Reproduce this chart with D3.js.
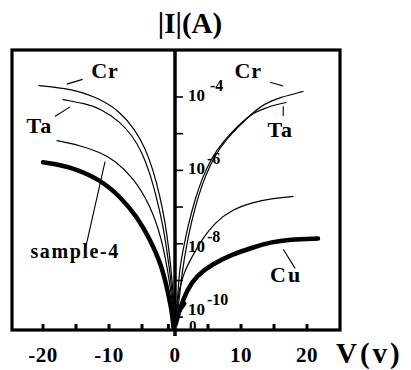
<!DOCTYPE html>
<html>
<head>
<meta charset="utf-8">
<script src="https://cdn.jsdelivr.net/npm/d3@7"></script>
<style>
  body { margin: 0; background: #fff; }
  text { font-family: "Liberation Serif", "Times New Roman", serif; font-weight: bold; fill: #000; }
</style>
</head>
<body>
<div id="container"></div>
<script>
/* sizes */
const width = 411, height = 370;

/* data: [V (volts), log10 |I| (A)] */
const crLeft = [[-20.61,-3.69],[-15.91,-3.77],[-11.36,-4.04],[-8.33,-4.4],[-6.06,-4.89],[-4.55,-5.38],[-3.33,-5.98],[-2.27,-6.71],[-1.52,-7.39],[-0.91,-8.16],[-0.45,-8.97],[-0.15,-9.71],[0,-10.09]];
const taLeft = [[-16.97,-4.07],[-13.64,-4.18],[-11.36,-4.31],[-8.33,-4.67],[-6.36,-5.08],[-5.0,-5.51],[-3.79,-6.08],[-2.73,-6.79],[-1.82,-7.5],[-1.21,-8.21],[-0.61,-9.0],[-0.23,-9.74],[0,-10.12]];
const s4Left = [[-17.88,-5.19],[-14.39,-5.32],[-11.36,-5.51],[-9.09,-5.73],[-6.36,-6.19],[-3.79,-6.93],[-1.97,-7.88],[-1.06,-8.78],[-0.45,-9.52],[-0.23,-9.98],[0,-10.17]];
const cuLeft = [[-20.0,-5.78],[-15.91,-5.89],[-11.36,-6.25],[-8.33,-6.71],[-5.76,-7.26],[-3.79,-7.88],[-1.97,-8.62],[-1.06,-9.33],[-0.45,-9.87],[-0.23,-10.28]];

const crRight = [[0.15,-10.12],[0.38,-9.87],[0.76,-9.33],[1.14,-8.7],[1.74,-8.05],[2.5,-7.39],[3.56,-6.68],[4.62,-6.14],[5.83,-5.68],[7.35,-5.21],[11.89,-4.4],[13.64,-4.18],[15.91,-4.01],[19.39,-3.85]];
const taRight = [[0.08,-10.12],[0.23,-9.87],[0.45,-9.33],[0.68,-8.7],[1.29,-8.1],[2.05,-7.45],[3.11,-6.74],[4.17,-6.19],[5.38,-5.73],[6.89,-5.27],[11.44,-4.45],[12.88,-4.37],[14.7,-4.23],[16.82,-4.15]];
const s4Right = [[0.15,-10.06],[0.3,-9.71],[0.61,-9.25],[1.36,-8.78],[2.58,-8.35],[4.09,-7.88],[6.06,-7.42],[8.64,-7.07],[11.82,-6.87],[14.55,-6.77],[17.88,-6.71]];
const cuRight = [[0.08,-10.2],[0.76,-9.76],[1.82,-9.25],[3.33,-8.86],[5.61,-8.56],[8.64,-8.29],[11.82,-8.1],[14.39,-7.96],[17.42,-7.88],[21.67,-7.86]];
const cuStub = [[0.3,-9.92],[0.9,-9.75],[1.4,-9.63]];

const curves = [
  { name: "Cr", pts: crLeft, thick: false },
  { name: "Ta", pts: taLeft, thick: false },
  { name: "sample-4", pts: s4Left, thick: false },
  { name: "Cu", pts: cuLeft, thick: true },
  { name: "Cr", pts: crRight, thick: false },
  { name: "Ta", pts: taRight, thick: false },
  { name: "sample-4", pts: s4Right, thick: false },
  { name: "Cu", pts: cuRight, thick: true },
  { name: "Cu", pts: cuStub, thick: true }
];

const xTicks = [-20, -15, -10, -5, -1, 5, 10, 15, 20];
const xTickLabels = [-20, -10, 0, 10, 20];
const yTicks = [-4, -5, -6, -7, -8, -9, -10];
const yTickLabels = [-4, -6, -8, -10];

/* labels: [text, V, log10 I] and leader lines [V1, L1, V2, L2] */
const curveLabels = [["Cr", -12.7, -3.48], ["Ta", -22.5, -4.98], ["Cr", 9.0, -3.48], ["Ta", 14.0, -5.1], ["sample-4", -21.9, -8.38], ["Cu", 14.4, -9.03]];
const leaders = [[-16.4,-3.65,-14.0,-3.52],[-18.2,-4.53,-15.9,-4.27],[14.4,-3.6,16.4,-3.7],[16.4,-4.25,16.4,-4.52],[-10.6,-5.76,-13.5,-8.07],[16.4,-8.15,18.2,-8.67]];

/* scales */
const xScale = d3.scaleLinear().domain([-24.7, 25]).range([12, 340]);
const yScale = d3.scaleLog().domain([Math.pow(10, -10.35), Math.pow(10, -2.72)]).range([330, 50]);
const yL = l => yScale(Math.pow(10, l));

const svg = d3.select("#container").append("svg")
  .attr("width", width)
  .attr("height", height);

/* frame */
const [x0, x1] = xScale.range();
const [yb, yt] = yScale.range();
svg.append("rect")
  .attr("x", x0).attr("y", yt)
  .attr("width", x1 - x0).attr("height", yb - yt)
  .attr("fill", "none").attr("stroke", "#000").attr("stroke-width", 3.2);

/* x ticks */
svg.selectAll("line.xt")
  .data(xTicks)
  .join("line")
  .attr("class", "xt")
  .attr("x1", d => xScale(d)).attr("x2", d => xScale(d))
  .attr("y1", yb).attr("y2", yb - 6)
  .attr("stroke", "#000").attr("stroke-width", 3);

svg.selectAll("text.xl")
  .data(xTickLabels)
  .join("text")
  .attr("class", "xl")
  .attr("x", d => xScale(d))
  .attr("y", 362)
  .attr("text-anchor", "middle")
  .style("font-size", "21px")
  .style("letter-spacing", "0.5px")
  .text(d => d);

/* vertical axis at V = 0 */
svg.append("line")
  .attr("x1", xScale(0)).attr("x2", xScale(0))
  .attr("y1", yt).attr("y2", yb + 6)
  .attr("stroke", "#000").attr("stroke-width", 3.5);

svg.selectAll("line.yt")
  .data(yTicks)
  .join("line")
  .attr("class", "yt")
  .attr("x1", xScale(0)).attr("x2", xScale(0) + 8)
  .attr("y1", d => yL(d)).attr("y2", d => yL(d))
  .attr("stroke", "#000").attr("stroke-width", 1.6);

const yLab = svg.selectAll("text.yl")
  .data(yTickLabels)
  .join("text")
  .attr("class", "yl")
  .attr("x", xScale(0) + 13)
  .attr("y", d => yL(d) + (d === -10 ? -2 : d === -8 ? 8 : 4))
  .style("font-size", "17px");
yLab.append("tspan").text("10");
yLab.append("tspan")
  .attr("dx", d => d === -4 ? 5 : 2).attr("dy", -10)
  .style("font-size", "16px")
  .text(d => d);

svg.append("text")
  .attr("x", xScale(0) + 14)
  .attr("y", yb + 1)
  .style("font-size", "15px")
  .text("0");

/* curves */
const line = d3.line()
  .x(d => xScale(d[0]))
  .y(d => yL(d[1]))
  .curve(d3.curveBasis);

svg.selectAll("path.curve")
  .data(curves)
  .join("path")
  .attr("class", "curve")
  .attr("d", d => line(d.pts))
  .attr("fill", "none")
  .attr("stroke", "#000")
  .attr("stroke-width", d => d.thick ? 4.5 : 1.2)
  .attr("stroke-linecap", "round");

/* curve labels and leaders */
svg.selectAll("line.lead")
  .data(leaders)
  .join("line")
  .attr("class", "lead")
  .attr("x1", d => xScale(d[0])).attr("y1", d => yL(d[1]))
  .attr("x2", d => xScale(d[2])).attr("y2", d => yL(d[3]))
  .attr("stroke", "#000").attr("stroke-width", 1.1);

svg.selectAll("text.cl")
  .data(curveLabels)
  .join("text")
  .attr("class", "cl")
  .attr("x", d => xScale(d[1]))
  .attr("y", d => yL(d[2]))
  .style("font-size", d => d[0] === "sample-4" ? "20px" : "22px")
  .style("letter-spacing", d => d[0] === "sample-4" ? "1.6px" : d[0] === "Cu" ? "2px" : "1px")
  .text(d => d[0]);

/* axis titles */
svg.append("text")
  .attr("x", 190).attr("y", 33)
  .attr("text-anchor", "middle")
  .style("font-size", "29px")
  .text("|I|(A)");

svg.append("text")
  .attr("x", 336).attr("y", 363)
  .style("font-size", "29px")
  .style("letter-spacing", "3px")
  .text("V(v)");
</script>
</body>
</html>
